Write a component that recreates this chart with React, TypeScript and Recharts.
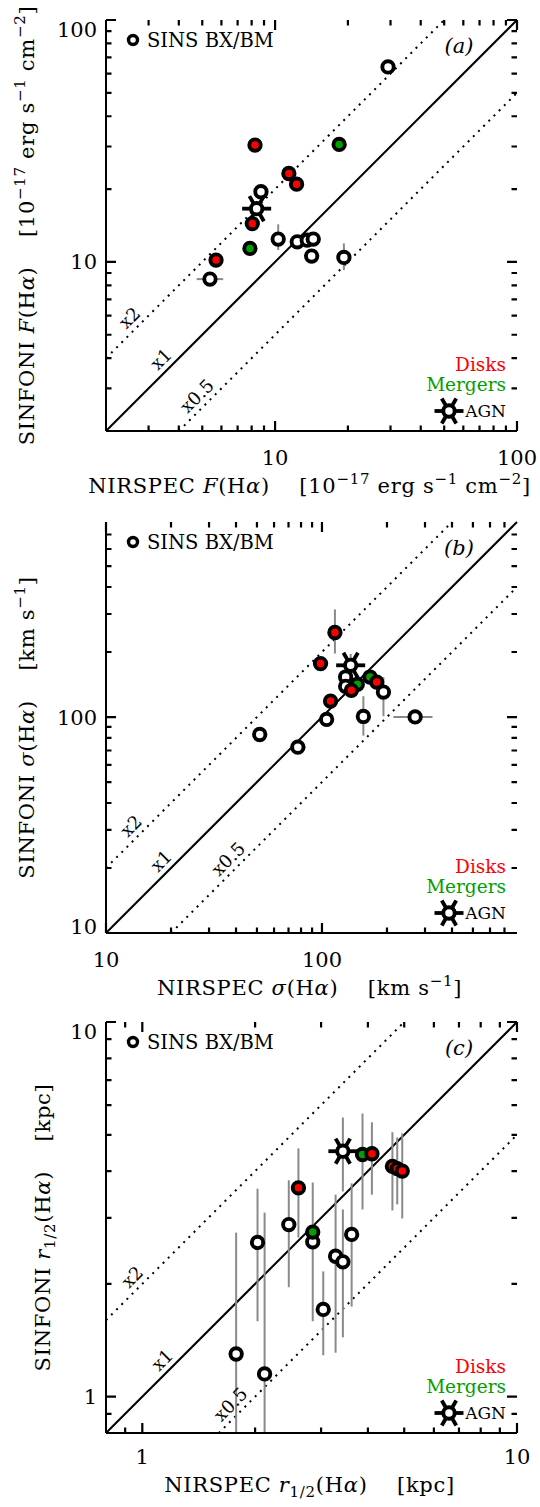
import React from 'react'
import { ScatterChart, Scatter, XAxis, YAxis, ReferenceLine, ReferenceDot, ErrorBar } from 'recharts'

type Kind = 'open' | 'disk' | 'merger' | 'agn'
type Range = [number, number] | null

// (a) H-alpha flux, 1e-17 erg s^-1 cm^-2
const fluxNirspec = [29.3, 8.26, 18.4, 11.4, 12.27, 8.74, 8.39, 8.05, 10.3, 12.35, 13.58, 14.38, 14.16, 7.87, 5.7, 5.38, 19.25]
const fluxSinfoni = [64.0, 30.4, 30.6, 23.2, 20.96, 19.5, 16.6, 14.4, 12.43, 12.11, 12.3, 12.43, 10.57, 11.37, 10.18, 8.49, 10.44]
const fluxKind: Kind[] = ['open', 'disk', 'merger', 'disk', 'disk', 'open', 'agn', 'disk', 'open', 'open', 'open', 'open', 'open', 'merger', 'disk', 'open', 'open']
const fluxNirErr: Range[] = [null, null, null, null, null, null, null, null, null, null, null, null, null, null, null, [4.74, 6.1], null]
const fluxSinErr: Range[] = [null, null, null, null, null, null, null, null, [11.2, 14.3], null, null, null, null, null, null, null, [9.25, 11.93]]

// (b) velocity dispersion, km/s
const sigmaNirspec = [114.8, 98.5, 135.8, 128.7, 128.7, 166.9, 179.3, 145.8, 136.8, 192.6, 109.6, 105.1, 155.5, 270, 51.5, 77.3]
const sigmaSinfoni = [246.3, 176.8, 173.6, 153.2, 138.7, 153.2, 145.2, 141.7, 132.9, 130.5, 118.5, 97.5, 100.6, 100.1, 83, 72.5]
const sigmaKind: Kind[] = ['disk', 'disk', 'agn', 'open', 'open', 'merger', 'disk', 'merger', 'disk', 'open', 'disk', 'open', 'open', 'open', 'open', 'open']
const sigmaNirErr: Range[] = [null, null, null, null, [121, 137], null, null, null, null, null, null, null, null, [214, 325], null, [71, 84]]
const sigmaSinErr: Range[] = [[196.8, 315], null, [160, 196], null, null, null, null, null, null, [101, 153], null, null, [82, 124.8], null, null, null]

// (c) half-light radius, kpc (two bars run off the bottom of the box)
const radNirspec = [3.43, 3.87, 4.1, 4.65, 4.79, 4.94, 2.61, 2.46, 2.85, 2.85, 2.03, 2.12, 1.78, 3.62, 3.28, 3.43, 3.04]
const radSinfoni = [4.52, 4.43, 4.45, 4.12, 4.06, 4.0, 3.61, 2.88, 2.59, 2.75, 2.58, 1.15, 1.3, 2.71, 2.37, 2.29, 1.71]
const radKind: Kind[] = ['agn', 'merger', 'disk', 'disk', 'disk', 'disk', 'disk', 'open', 'open', 'merger', 'open', 'open', 'open', 'open', 'open', 'open', 'open']
const radSinErr: Range[] = [[3.53, 5.56], [3.16, 5.7], [3.46, 5.4], [3.14, 5.08], [3.26, 4.92], [2.99, 5.04], [2.66, 4.6], [1.96, 3.78], [1.59, 3.73], null, [1.59, 3.59], [0.8, 3.1], [0.8, 2.74], [1.74, 3.71], [1.31, 3.46], [1.44, 3.16], [1.29, 2.16]]
const radNirErr: Range[] = radNirspec.map(() => null)

// major (labelled) and minor tick values per panel
const fluxMajor = [10, 100]
const fluxMinor = [3, 4, 5, 6, 7, 8, 9, 20, 30, 40, 50, 60, 70, 80, 90]
const sigmaMajor = [10, 100]
const sigmaMinor = [20, 30, 40, 50, 60, 70, 80, 90, 200, 300, 400, 500, 600, 700]
const radMajor = [1, 10]
const radMinor = [0.9, 2, 3, 4, 5, 6, 7, 8, 9]

const FONT = 'DejaVu Serif'
const RED = '#ff0000'
const GREEN = '#00a000'
const GREY = '#8a8a8a'
const FILL: Record<Kind, string> = { open: '#fff', agn: '#fff', disk: RED, merger: GREEN }

const PLOT_LEFT = 106
const PLOT = 411
const MAJOR = 10
const MINOR = 5.5
const DOTS = '2 5.3'

function buildPoints(xs: number[], ys: number[], kinds: Kind[], xErr: Range[], yErr: Range[]) {
  return xs.map((x, i) => {
    const y = ys[i]
    const ex = xErr[i]
    const ey = yErr[i]
    return {
      x, y, kind: kinds[i],
      ex: ex ? [x - ex[0], ex[1] - x] : undefined,
      ey: ey ? [y - ey[0], ey[1] - y] : undefined,
    }
  })
}

function Spokes({ cx, cy, len = 14.5 }: { cx: number; cy: number; len?: number }) {
  return (
    <g stroke="#000" strokeWidth={3.8}>
      {[0, 60, 120].map(a => {
        const dx = Math.cos((a * Math.PI) / 180) * len
        const dy = Math.sin((a * Math.PI) / 180) * len
        return <line key={a} x1={cx - dx} y1={cy - dy} x2={cx + dx} y2={cy + dy} />
      })}
    </g>
  )
}

function Marker(props: any) {
  const { cx, cy, payload } = props
  const kind: Kind = payload.kind
  return (
    <g>
      {kind === 'agn' && <Spokes cx={cx} cy={cy} />}
      <circle cx={cx} cy={cy} r={5.7} fill={FILL[kind]} stroke="#000" strokeWidth={3.9} />
    </g>
  )
}

type Seg = [string, 'n' | 'i' | 'sup' | 'sub']

function Rich({ segs }: { segs: Seg[] }) {
  let shift = 0
  return (
    <>
      {segs.map(([s, k], i) => {
        const target = k === 'sup' ? -9 : k === 'sub' ? 5 : 0
        const dy = target - shift
        shift = target
        const small = k === 'sup' || k === 'sub'
        return (
          <tspan key={i} dy={dy} fontSize={small ? 15 : undefined} fontStyle={k === 'i' ? 'italic' : undefined}>
            {s}
          </tspan>
        )
      })}
    </>
  )
}

const label = (v: number) => String(v)

interface PanelProps {
  top: number
  height: number
  pt: number
  domain: [number, number]
  majors: number[]
  minors: number[]
  points: ReturnType<typeof buildPoints>
  tag: string
  xTitle: Seg[]
  yTitle: Seg[]
  tickGap: number
  titleGap: number
  yTitleX: number
  lineLabelAt: [number, number, number]
}

function Panel(p: PanelProps) {
  const [d0, d1] = p.domain
  const T = p.pt
  const B = p.pt + PLOT
  const L = PLOT_LEFT
  const R = PLOT_LEFT + PLOT
  // same log mapping as the square box, used only for the inward tick marks
  const perDecade = PLOT / Math.log10(d1 / d0)
  const toX = (v: number) => L + Math.log10(v / d0) * perDecade
  const toY = (v: number) => B - Math.log10(v / d0) * perDecade
  const axisLine = { stroke: '#000', strokeWidth: 2 }
  const common = {
    type: 'number' as const,
    scale: 'log' as const,
    domain: p.domain,
    allowDataOverflow: true,
    ticks: p.majors,
    interval: 0 as const,
    tickSize: 0,
    tickMargin: 0,
    tickLine: false,
    axisLine,
  }
  const bottomLabel = (t: any) => (
    <text x={t.x} y={t.y + p.tickGap} textAnchor="middle" fontFamily={FONT} fontSize={21} fill="#000">
      {label(t.payload.value)}
    </text>
  )
  const leftLabel = (t: any) => (
    <text
      x={t.x - 9}
      y={Math.min(Math.max(t.y, T + 9), B - 7)}
      dy="0.36em"
      textAnchor="end"
      fontFamily={FONT}
      fontSize={21}
      fill="#000"
    >
      {label(t.payload.value)}
    </text>
  )
  const noLabel = () => <g />
  const lineLabel = (text: string, xv: number, factor: number) => (
    <ReferenceDot
      key={text}
      x={xv}
      y={xv * factor}
      r={0}
      ifOverflow="visible"
      shape={(s: any) => (
        <text
          x={s.cx}
          y={s.cy - 17}
          dy="0.35em"
          textAnchor="middle"
          fontFamily={FONT}
          fontSize={18}
          fill="#000"
          transform={`rotate(-45 ${s.cx} ${s.cy - 17})`}
        >
          {text}
        </text>
      )}
    />
  )
  const allTicks = [...p.majors, ...p.minors]
  const tickPath = allTicks
    .map(v => {
      const len = p.majors.includes(v) ? MAJOR : MINOR
      const x = toX(v)
      const y = toY(v)
      return `M${x} ${B}V${B - len}M${x} ${T}V${T + len}M${L} ${y}H${L + len}M${R} ${y}H${R - len}`
    })
    .join('')
  const titleStyle = { whiteSpace: 'pre' as const, letterSpacing: 0.7 }
  return (
    <div style={{ position: 'absolute', left: 0, top: p.top, width: 540, height: p.height }}>
      <ScatterChart width={540} height={p.height} margin={{ top: T, right: 540 - R, bottom: 0, left: 0 }}>
        <XAxis {...common} dataKey="x" height={p.height - B} tick={bottomLabel} />
        <XAxis {...common} xAxisId="top" orientation="top" height={0} tick={noLabel} />
        <YAxis {...common} dataKey="y" width={L} tick={leftLabel} />
        <YAxis {...common} yAxisId="right" orientation="right" width={0} tick={noLabel} />
        <ReferenceLine segment={[{ x: d0, y: d0 }, { x: d1, y: d1 }]} stroke="#000" strokeWidth={2} ifOverflow="visible" />
        <ReferenceLine segment={[{ x: d0, y: 2 * d0 }, { x: d1 / 2, y: d1 }]} stroke="#000" strokeWidth={2} strokeDasharray={DOTS} ifOverflow="visible" />
        <ReferenceLine segment={[{ x: 2 * d0, y: d0 }, { x: d1, y: d1 / 2 }]} stroke="#000" strokeWidth={2} strokeDasharray={DOTS} ifOverflow="visible" />
        {lineLabel('x2', p.lineLabelAt[0], 2)}
        {lineLabel('x1', p.lineLabelAt[1], 1)}
        {lineLabel('x0.5', p.lineLabelAt[2], 0.5)}
        <Scatter data={p.points} shape={Marker} isAnimationActive={false}>
          <ErrorBar dataKey="ex" direction="x" width={0} stroke={GREY} strokeWidth={2} />
          <ErrorBar dataKey="ey" direction="y" width={0} stroke={GREY} strokeWidth={2} />
        </Scatter>
      </ScatterChart>
      <svg
        width={540}
        height={p.height}
        style={{ position: 'absolute', left: 0, top: 0, pointerEvents: 'none', zIndex: 10, overflow: 'visible' }}
        fontFamily={FONT}
        xmlSpace="preserve"
      >
        <circle cx={L + 27} cy={T + 20} r={4.5} fill="#fff" stroke="#000" strokeWidth={3.4} />
        <text x={L + 41} y={T + 27} fontSize={19.5}>SINS BX/BM</text>
        <text x={L + 353} y={T + 33} fontSize={21} fontStyle="italic" textAnchor="middle">{p.tag}</text>
        <text x={R - 11} y={B - 60} fontSize={18.5} fill={RED} textAnchor="end">Disks</text>
        <text x={R - 11} y={B - 40} fontSize={18.5} fill={GREEN} textAnchor="end">Mergers</text>
        <text x={R - 11} y={B - 14} fontSize={17} textAnchor="end">AGN</text>
        <Spokes cx={L + 343} cy={B - 20} />
        <circle cx={L + 343} cy={B - 20} r={5.7} fill="#fff" stroke="#000" strokeWidth={3.9} />
        <text x={(L + R) / 2 - 2} y={B + p.titleGap} fontSize={21} textAnchor="middle" style={titleStyle}>
          <Rich segs={p.xTitle} />
        </text>
        <text
          x={p.yTitleX}
          y={(T + B) / 2}
          fontSize={21}
          textAnchor="middle"
          transform={`rotate(-90 ${p.yTitleX} ${(T + B) / 2})`}
          style={titleStyle}
        >
          <Rich segs={p.yTitle} />
        </text>
        <path d={tickPath} stroke="#000" strokeWidth={2.2} fill="none" />
      </svg>
    </div>
  )
}

const fluxUnit: Seg[] = [['F', 'i'], ['(H', 'n'], ['α', 'i'], [')    [10', 'n'], ['−17', 'sup'], [' erg s', 'n'], ['−1', 'sup'], [' cm', 'n'], ['−2', 'sup'], [']', 'n']]
const sigmaUnit: Seg[] = [['σ', 'i'], ['(H', 'n'], ['α', 'i'], [')    [km s', 'n'], ['−1', 'sup'], [']', 'n']]
const radUnit: Seg[] = [['r', 'i'], ['1/2', 'sub'], ['(H', 'n'], ['α', 'i'], [')    [kpc]', 'n']]

export default function App() {
  return (
    <div style={{ position: 'absolute', left: 0, top: 0, width: 540, height: 1507, background: '#fff' }}>
      <Panel
        top={0}
        height={500}
        pt={20}
        domain={[2, 100]}
        majors={fluxMajor}
        minors={fluxMinor}
        points={buildPoints(fluxNirspec, fluxSinfoni, fluxKind, fluxNirErr, fluxSinErr)}
        tag="(a)"
        xTitle={[['NIRSPEC ', 'n'], ...fluxUnit]}
        yTitle={[['SINFONI ', 'n'], ...fluxUnit]}
        tickGap={34}
        titleGap={62}
        yTitleX={34}
        lineLabelAt={[2.5, 3.375, 4.75]}
      />
      <Panel
        top={500}
        height={500}
        pt={22}
        domain={[10, 800]}
        majors={sigmaMajor}
        minors={sigmaMinor}
        points={buildPoints(sigmaNirspec, sigmaSinfoni, sigmaKind, sigmaNirErr, sigmaSinErr)}
        tag="(b)"
        xTitle={[['NIRSPEC ', 'n'], ...sigmaUnit]}
        yTitle={[['SINFONI ', 'n'], ...sigmaUnit]}
        tickGap={34}
        titleGap={62}
        yTitleX={34}
        lineLabelAt={[13.06, 18.0, 36.8]}
      />
      <Panel
        top={1000}
        height={507}
        pt={22}
        domain={[0.8, 10]}
        majors={radMajor}
        minors={radMinor}
        points={buildPoints(radNirspec, radSinfoni, radKind, radNirErr, radSinErr)}
        tag="(c)"
        xTitle={[['NIRSPEC ', 'n'], ...radUnit]}
        yTitle={[['SINFONI ', 'n'], ...radUnit]}
        tickGap={31}
        titleGap={59}
        yTitleX={50}
        lineLabelAt={[0.94, 1.13, 1.72]}
      />
    </div>
  )
}
